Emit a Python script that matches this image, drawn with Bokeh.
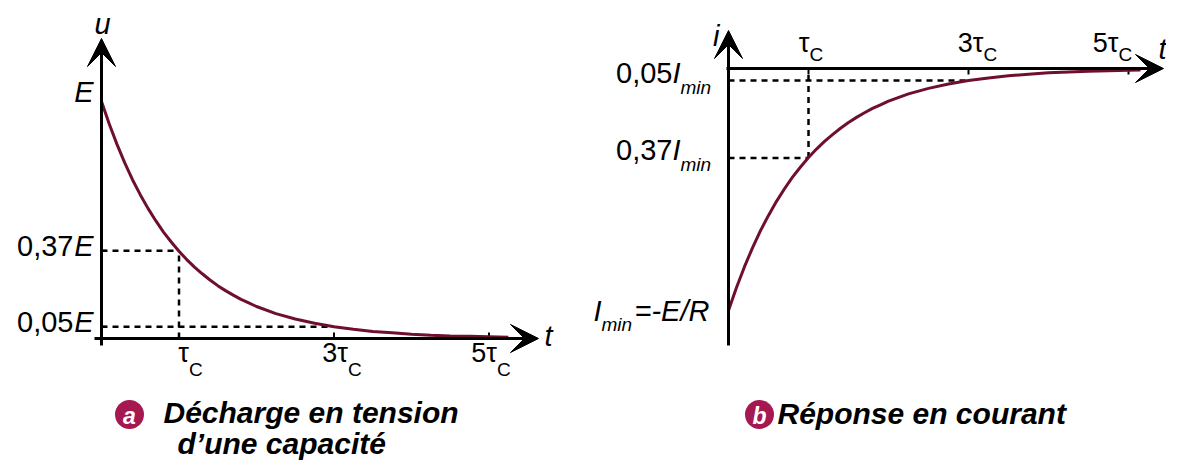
from bokeh.plotting import figure
from bokeh.layouts import row
from bokeh.models import Arrow, VeeHead
from bokeh.core.properties import value
from bokeh.embed import file_html
from bokeh.resources import INLINE

# ---------------- data ----------------
# (a) voltage across a discharging capacitor, u / E versus t / tau_C
t_a = [0, 0.1, 0.2, 0.3, 0.4, 0.5, 0.6, 0.7, 0.8, 0.9, 1.0, 1.1, 1.2, 1.3, 1.4,
       1.5, 1.6, 1.7, 1.8, 1.9, 2.0, 2.25, 2.5, 2.75, 3.0, 3.25, 3.5, 3.75, 4.0,
       4.25, 4.5, 4.75, 5.0, 5.25]
u_a = [1.000, 0.905, 0.819, 0.741, 0.670, 0.607, 0.549, 0.497, 0.449, 0.407,
       0.368, 0.333, 0.301, 0.273, 0.247, 0.223, 0.202, 0.183, 0.165, 0.150,
       0.135, 0.105, 0.082, 0.064, 0.050, 0.039, 0.030, 0.024, 0.018, 0.014,
       0.011, 0.009, 0.007, 0.005]
# (b) current response, i / |I_min| versus t / tau_C
t_b = [0, 0.1, 0.2, 0.3, 0.4, 0.5, 0.6, 0.7, 0.8, 0.9, 1.0, 1.1, 1.2, 1.3, 1.4,
       1.5, 1.6, 1.7, 1.8, 1.9, 2.0, 2.25, 2.5, 2.75, 3.0, 3.25, 3.5, 3.75, 4.0,
       4.25, 4.5, 4.75, 5.0, 5.15]
i_b = [-1.000, -0.905, -0.819, -0.741, -0.670, -0.607, -0.549, -0.497, -0.449,
       -0.407, -0.368, -0.333, -0.301, -0.273, -0.247, -0.223, -0.202, -0.183,
       -0.165, -0.150, -0.135, -0.105, -0.082, -0.064, -0.050, -0.039, -0.030,
       -0.024, -0.018, -0.014, -0.011, -0.009, -0.007, -0.006]

tick_t = [1, 3, 5]
tick_main = ["τ", "3τ", "5τ"]
tick_sub = "C"
levels_a = [0.37, 0.05]
levels_a_num = ["0,37", "0,05"]
levels_b = [-0.37, -0.05]
levels_b_num = ["0,37", "0,05"]
caption_a = ["Décharge en tension", "d’une capacité"]
caption_b = "Réponse en courant"

# ---------------- styling / geometry ----------------
W, H = 583, 460
CURVE = "#6e0f30"
BADGE = "#a51950"
FONT = value("Liberation Sans")
RAISE = 0.33   # baseline correction of the svg text, in em


class Map:
    """picture-pixel <-> data helper for one panel"""
    def __init__(self, left, x0, xs, y0, ys):
        self.left, self.x0, self.xs, self.y0, self.ys = left, x0, xs, y0, ys

    def x(self, px):
        return (px - self.x0) / self.xs

    def y(self, py):
        return (self.y0 - py) / self.ys


A = Map(0, 101, 77.5, 338, 237)
B = Map(W, 728, 80, 68, 242)


def make_fig(m):
    p = figure(width=W, height=H,
               x_range=(m.x(m.left), m.x(m.left + W)),
               y_range=(m.y(H), m.y(0)),
               x_axis_location=None, y_axis_location=None,
               toolbar_location=None, output_backend="svg",
               min_border=0, tools="")
    p.grid.visible = False
    p.outline_line_color = None
    p.background_fill_color = "white"
    p.border_fill_color = "white"
    return p


def txt(p, m, x, y, s, size, style="normal", align="left", baseline="alphabetic",
        color="black"):
    """y is a data value; the svg baseline shift is compensated"""
    if baseline == "alphabetic":
        y = y + RAISE * size / m.ys
    p.text(x=[x], y=[y], text=[s], text_font=FONT, text_font_size=f"{size}px",
           text_font_style=style, text_align=align, text_baseline=baseline,
           text_color=color)


def arrow(p, x0, y0, x1, y1):
    p.add_layout(Arrow(end=VeeHead(size=28, fill_color="black", line_color="black",
                                   line_width=1),
                       x_start=x0, y_start=y0, x_end=x1, y_end=y1,
                       line_width=3, line_color="black"))


DASH = dict(line_color="black", line_width=2.5, line_dash="6 5")
LBL = 29
TICK = 27
SUB = 19
CAP = 30

# =================== panel (a) ===================
pa = make_fig(A)
arrow(pa, 0, A.y(345), 0, A.y(38))
arrow(pa, A.x(94), 0, A.x(538), 0)
# small ticks
pa.segment(x0=tick_t[1:], y0=[0, 0], x1=tick_t[1:], y1=[6 / A.ys] * 2,
           line_color="black", line_width=2)
pa.segment(x0=[0, 0], y0=levels_a, x1=[5 / A.xs] * 2, y1=levels_a,
           line_color="black", line_width=2)
# dashed guides
pa.segment(x0=[0, tick_t[0], 0], y0=[levels_a[0], 0, levels_a[1]],
           x1=[tick_t[0], tick_t[0], tick_t[1]], y1=[levels_a[0], levels_a[0], levels_a[1]],
           **DASH)
pa.line(t_a, u_a, line_color=CURVE, line_width=3)

# axis names
txt(pa, A, A.x(102), A.y(33), "u", LBL, "italic", "center")
txt(pa, A, A.x(548), A.y(345), "t", LBL, "italic", "center")
# y labels
txt(pa, A, A.x(93), 1.0, "E", LBL, "italic", "right")
for lv, num in zip(levels_a, levels_a_num):
    ypx = A.y0 - lv * A.ys
    txt(pa, A, A.x(93), A.y(ypx + 5), "E", LBL, "italic", "right")
    txt(pa, A, A.x(73), A.y(ypx + 5), num, LBL, "normal", "right")
# x tick labels
for tv, main, dx in zip(tick_t, tick_main, [10, 14, 8]):
    jx = tv + dx / A.xs
    txt(pa, A, jx, A.y(361), main, TICK, "normal", "right")
    txt(pa, A, jx, A.y(375), tick_sub, SUB, "normal", "left")
# caption
pa.scatter(x=[A.x(129)], y=[A.y(414)], size=29, marker="circle",
           fill_color=BADGE, line_color=None)
txt(pa, A, A.x(129), A.y(415), "a", 23, "bold italic", "center", "middle", "white")
txt(pa, A, A.x(163), A.y(422), caption_a[0], CAP, "bold italic", "left")
txt(pa, A, A.x(177), A.y(453), caption_a[1], CAP, "bold italic", "left")

# =================== panel (b) ===================
pb = make_fig(B)
arrow(pb, 0, B.y(345), 0, B.y(30))
arrow(pb, B.x(726), 0, B.x(1163), 0)
pb.segment(x0=tick_t, y0=[0] * 3, x1=tick_t, y1=[-6 / B.ys] * 3,
           line_color="black", line_width=2)
pb.segment(x0=[0, tick_t[0], 0], y0=[levels_b[0], levels_b[0], levels_b[1]],
           x1=[tick_t[0], tick_t[0], tick_t[1]], y1=[levels_b[0], 0, levels_b[1]],
           **DASH)
pb.line(t_b, i_b, line_color=CURVE, line_width=3)

txt(pb, B, B.x(719), B.y(45), "i", LBL, "italic", "right")
txt(pb, B, B.x(1166), B.y(58), "t", LBL, "italic", "right")
for tv, main, dx in zip(tick_t, tick_main, [1, 15, -10]):
    jx = tv + dx / B.xs
    txt(pb, B, jx, B.y(51), main, TICK, "normal", "right")
    txt(pb, B, jx, B.y(60), tick_sub, SUB, "normal", "left")
for lv, num in zip(levels_b, levels_b_num):
    ypx = B.y0 - lv * B.ys
    txt(pb, B, B.x(680), B.y(ypx + 2), "I", LBL, "italic", "right")
    txt(pb, B, B.x(672), B.y(ypx + 2), num, LBL, "normal", "right")
    txt(pb, B, B.x(680), B.y(ypx + 13), "min", SUB, "italic", "left")
# I_min = -E/R at i = -1
ypx = B.y0 + B.ys
txt(pb, B, B.x(601), B.y(ypx + 10), "I", LBL, "italic", "right")
txt(pb, B, B.x(601), B.y(ypx + 20), "min", SUB, "italic", "left")
txt(pb, B, B.x(634), B.y(ypx + 10), "=-E/R", LBL, "italic", "left")
# caption
pb.scatter(x=[B.x(759)], y=[B.y(414)], size=29, marker="circle",
           fill_color=BADGE, line_color=None)
txt(pb, B, B.x(759), B.y(415), "b", 23, "bold italic", "center", "middle", "white")
txt(pb, B, B.x(777), B.y(423), caption_b, CAP, "bold italic", "left")

layout = row(pa, pb)
open("out.html", "w").write(file_html(layout, INLINE))
